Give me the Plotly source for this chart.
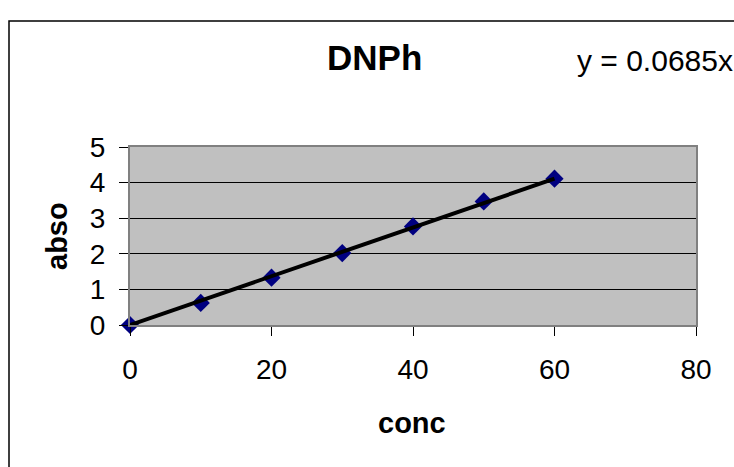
import plotly.graph_objects as go

conc = [0, 10, 20, 30, 40, 50, 60]
abso = [0, 0.62, 1.33, 2.02, 2.77, 3.47, 4.11]
slope = 0.0685
x_ticks = [0, 20, 40, 60, 80]
y_ticks = [0, 1, 2, 3, 4, 5]

W, H = 734, 467
L, R, T, B = 130, 38, 147, 142
pw, ph = W - L - R, H - T - B

def px(x):
    return (x - L) / pw

def py(y):
    return (H - B - y) / ph

FONT = "Arial, Liberation Sans, sans-serif"

trend_x = [conc[0], conc[-1]]
trend_y = [slope * v for v in trend_x]

fig = go.Figure()
fig.add_trace(go.Scatter(
    x=conc, y=abso, mode="markers",
    marker=dict(symbol="diamond", size=14, color="#000080",
                line=dict(width=0)),
    cliponaxis=False, showlegend=False))
fig.add_trace(go.Scatter(
    x=trend_x, y=trend_y, mode="lines",
    line=dict(color="black", width=4),
    cliponaxis=False, showlegend=False))

fig.update_layout(
    width=W, height=H,
    margin=dict(l=L, r=R, t=T, b=B, pad=0),
    paper_bgcolor="white",
    plot_bgcolor="#C0C0C0",
    font=dict(family=FONT, color="black"),
    xaxis=dict(range=[0, 80], tickvals=x_ticks, ticks="outside", ticklen=9,
               tickcolor="black", tickwidth=1, showgrid=False, zeroline=False,
               showline=True, linecolor="#808080", linewidth=2, mirror=True,
               tickfont=dict(size=28, family=FONT), ticklabelstandoff=9),
    yaxis=dict(range=[0, 5], tickvals=y_ticks, ticks="outside", ticklen=9,
               tickcolor="black", tickwidth=1, showgrid=True, gridcolor="black",
               gridwidth=1, zeroline=False,
               showline=True, linecolor="#808080", linewidth=2, mirror=True,
               tickfont=dict(size=28, family=FONT), ticklabelstandoff=8),
    shapes=[dict(type="rect", xref="paper", yref="paper",
                 x0=px(9), y0=-1.0, x1=1.3, y1=py(21),
                 line=dict(color="black", width=1.5), layer="below")],
    annotations=[
        dict(text="<b>DNPh</b>", xref="paper", yref="paper", x=px(374), y=py(57),
             xanchor="center", yanchor="middle", showarrow=False,
             font=dict(size=35, family=FONT)),
        dict(text="y = 0.0685x", xref="paper", yref="paper", x=px(575), y=py(60),
             xanchor="left", yanchor="middle", showarrow=False,
             font=dict(size=30, family=FONT)),
        dict(text="<b>conc</b>", xref="paper", yref="paper", x=px(412), y=py(423),
             xanchor="center", yanchor="middle", showarrow=False,
             font=dict(size=29, family=FONT)),
        dict(text="<b>abso</b>", xref="paper", yref="paper", x=px(57), y=py(236),
             xanchor="center", yanchor="middle", showarrow=False, textangle=-90,
             font=dict(size=29, family=FONT)),
    ],
)

fig.write_html("out.html")
